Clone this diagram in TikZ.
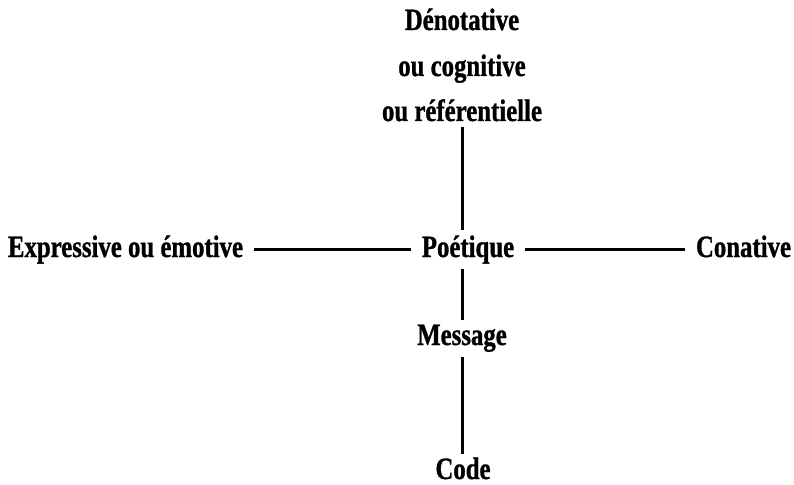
\documentclass[tikz,border=0pt]{standalone}
\usepackage{fontspec}
\newfontfamily\fnlabel{Liberation Serif}[FakeStretch=0.8,FakeBold=1]
\usetikzlibrary{positioning}

\begin{document}
\begin{tikzpicture}[x=1pt,y=-1pt]
  \useasboundingbox (0,0) rectangle (794,484);
  \tikzstyle{every node}=[font=\fnlabel\bfseries\fontsize{31}{37}\selectfont,
    anchor=base, inner xsep=11pt, inner ysep=5pt];
  \tikzstyle{axis}=[line width=3pt];
  \foreach \n/\y/\t in {den/30/Dénotative,cog/76/ou cognitive,ref/121/ou référentielle}{
    \node (\n) at (462,\y) {\t};
  }
  \node (poe) at (468,257) {Poétique};
  \node (expr) at (125.5,257) {Expressive ou émotive};
  \node (con) at (743.5,257) {Conative};
  \node (mes) at (462,345) {Message};
  \node[inner ysep=3pt] (code) at (463,479) {Code};
  % axes
  \draw[axis] (ref.south) -- (ref.south |- poe.north);
  \draw[axis] (mes.north |- poe.south) -- (mes.north);
  \draw[axis] (mes.south) -- (mes.south |- code.north);
  \draw[axis] (expr.east) -- (expr.east -| poe.west);
  \draw[axis] (poe.east) -- (poe.east -| con.west);
\end{tikzpicture}
\end{document}
